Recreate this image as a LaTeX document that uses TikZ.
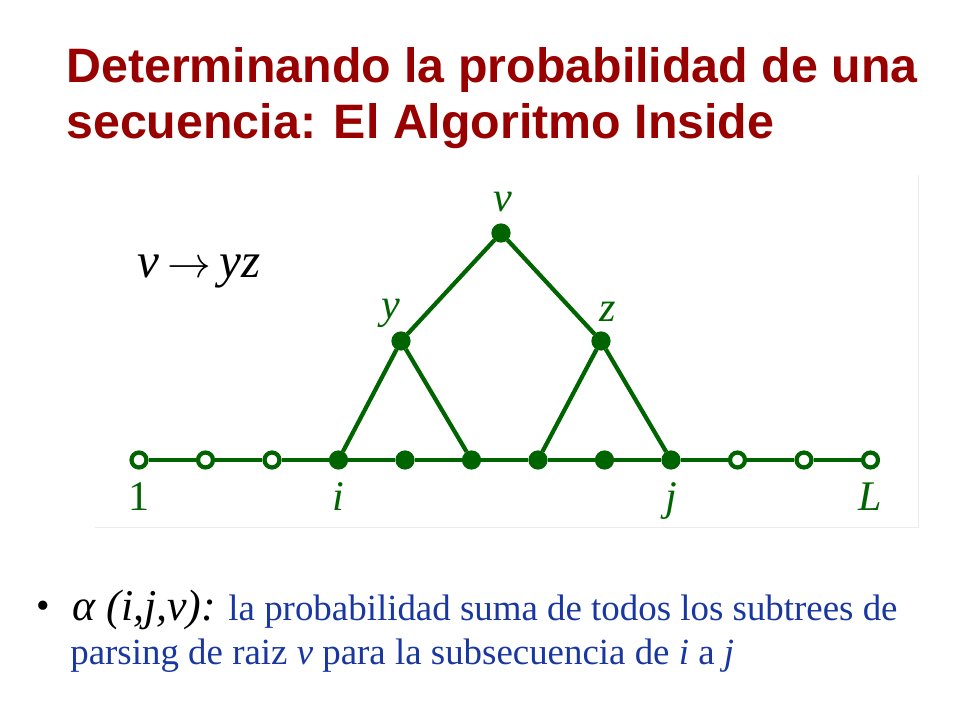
\documentclass[tikz,border=0pt]{standalone}
\usepackage{fontspec}
\setmainfont{Liberation Serif}
\setsansfont{Liberation Sans}
\usetikzlibrary{positioning}
\definecolor{titlered}{RGB}{153,0,0}
\definecolor{treegreen}{RGB}{0,100,0}
\definecolor{textblue}{RGB}{25,55,160}
\tikzset{
    raw dot/.style={circle, draw=treegreen, line width=2.4pt, inner sep=0pt, minimum size=8.5pt},
    open dot/.style={raw dot, fill=white},
    full dot/.style={raw dot, fill=treegreen},
    tree label/.style={text=treegreen, inner sep=0pt, font=\fontsize{24}{24}\selectfont\itshape},
    tree edge/.style={draw=treegreen, line width=2.4pt},
    title line/.style={anchor=base west, inner sep=0pt, text=titlered, font=\fontsize{27.5}{27.5}\selectfont\sffamily\bfseries},
    body line/.style={anchor=base west, inner sep=0pt, text=textblue, font=\fontsize{21}{21}\selectfont}
}

\begin{document}
\begin{tikzpicture}[x=0.02cm, y=-0.02cm]
	\useasboundingbox (0,0) rectangle (960,720);
	% title
	\node[title line] (title1) at (66,82) {Determinando la probabilidad de una};
	\node[title line] (title2) at (66,138) {secuencia: El Algoritmo Inside};
	% panel
	\draw[gray!15] (95,527) -- (918,527) -- (918,175);
	\node[anchor=base west, inner sep=0pt, font=\fontsize{28}{28}\selectfont\itshape] (rule) at (137,277) {v\,$\rightarrow$\,yz};
	% sequence
	\foreach \k/\s in {1/open,2/open,3/open,4/full,5/full,6/full,7/full,8/full,9/full,10/open,11/open,12/open}
		\node[\s\space dot] (n\k) at (139+66.5*\k-66.5,460) {};
	\draw[tree edge] (n1) -- (n2) -- (n3) -- (n4) -- (n5) -- (n6) -- (n7) -- (n8) -- (n9) -- (n10) -- (n11) -- (n12);
	% tree
	\node[full dot] (v) at (501,233) {};
	\node[full dot] (y) at (401,341) {};
	\node[full dot] (z) at (601,341) {};
	\draw[tree edge] (y) -- (v) -- (z);
	\draw[tree edge] (n4) -- (y) -- (n6);
	\draw[tree edge] (n7) -- (z) -- (n9);
	% labels
	\node[tree label] (lv) at (503,202) {v};
	\node[tree label] (ly) at (391,313) {y};
	\node[tree label] (lz) at (608,312) {z};
	\node[tree label, below=29pt of n1.center, anchor=base] (l1) {\upshape 1};
	\node[tree label, below=29pt of n4.center, anchor=base] (li) {i};
	\node[tree label, below=29pt of n9.center, anchor=base] (lj) {j};
	\node[tree label, below=29pt of n12.center, anchor=base] (lL) {L};
	% bullet text
	\node[anchor=base west, inner sep=0pt, font=\fontsize{22}{22}\selectfont] (bullet) at (36,618) {\textbullet};
	\node[body line] (body1) at (72,620) {{\fontsize{25}{25}\selectfont\color{black}\itshape α (i,j,v):} la probabilidad suma de todos los subtrees de};
	\node[body line] (body2) at (70,664) {parsing de raiz \textit{v} para la subsecuencia de \textit{i} a \textit{j}};
\end{tikzpicture}
\end{document}
